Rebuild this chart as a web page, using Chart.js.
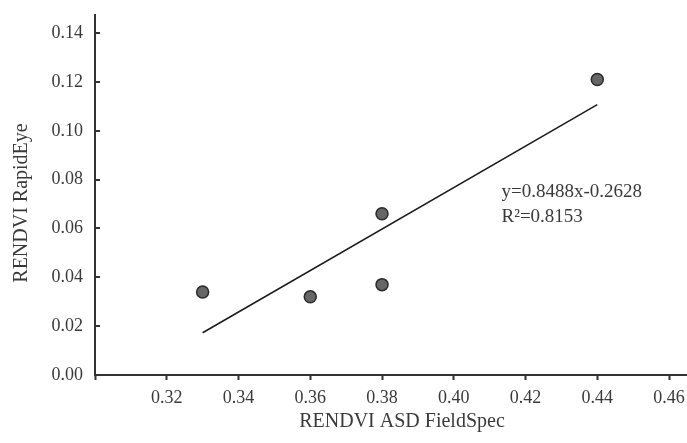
<!DOCTYPE html>
<html>
<head>
<meta charset="utf-8">
<script src="https://cdn.jsdelivr.net/npm/chart.js@4.4.1/dist/chart.umd.min.js"></script>
<style>
  html, body { margin: 0; padding: 0; background: #fff; overflow: hidden; }
  canvas { display: block; }
</style>
</head>
<body>
<canvas id="chart" width="687" height="443"></canvas>
<script>
// measured points
const asdValues = [0.33, 0.36, 0.38, 0.38, 0.44];
const rapidEyeValues = [0.034, 0.032, 0.037, 0.066, 0.121];

// fitted line, ends
const fitX = [0.33, 0.44];
const fitY = [0.0173, 0.1107];

const xTicks = [0.30, 0.32, 0.34, 0.36, 0.38, 0.40, 0.42, 0.44, 0.46];
const yTicks = [0.00, 0.02, 0.04, 0.06, 0.08, 0.10, 0.12, 0.14];

const xTitle = 'RENDVI ASD FieldSpec';
const yTitle = 'RENDVI RapidEye';
const equationLines = ['y=0.8488x-0.2628', 'R\u00B2=0.8153'];

const axisColor = '#333';
const textColor = '#3a3a3a';
const fontFamily = '"Liberation Serif", "DejaVu Serif", serif';

// small ticks on the y axis point into the plot
const innerTicks = {
    id: 'innerTicks',
    afterDraw(chart) {
        const ctx = chart.ctx;
        const y = chart.scales.y;
        const left = chart.chartArea.left;
        ctx.save();
        ctx.strokeStyle = axisColor;
        ctx.lineWidth = 2;
        yTicks.forEach(v => {
            const py = Math.round(y.getPixelForValue(v));
            ctx.beginPath();
            ctx.moveTo(left, py);
            ctx.lineTo(left + 5, py);
            ctx.stroke();
        });
        ctx.restore();
    }
};

// axis titles (a bit off-centre in the original) and the regression equation
const labels = {
    id: 'labels',
    afterDraw(chart) {
        const ctx = chart.ctx;
        const area = chart.chartArea;
        const x = chart.scales.x;
        const y = chart.scales.y;
        ctx.save();
        ctx.fillStyle = textColor;
        ctx.textBaseline = 'middle';
        ctx.textAlign = 'center';
        ctx.font = '20px ' + fontFamily;
        ctx.fillText(xTitle, area.left + 307, 422);

        ctx.save();
        ctx.translate(22, area.top + 188);
        ctx.rotate(-Math.PI / 2);
        ctx.fillText(yTitle, 0, 0);
        ctx.restore();

        ctx.textAlign = 'left';
        ctx.font = '19px ' + fontFamily;
        const px = x.getPixelForValue(0.4133);
        ctx.fillText(equationLines[0], px, y.getPixelForValue(0.0751));
        ctx.fillText(equationLines[1], px, y.getPixelForValue(0.0645));
        ctx.restore();
    }
};

const points = asdValues.map((x, i) => ({ x: x, y: rapidEyeValues[i] }));
const fitLine = fitX.map((x, i) => ({ x: x, y: fitY[i] }));

new Chart(document.getElementById('chart'), {
    type: 'scatter',
    data: {
        datasets: [{
            label: 'Samples',
            data: points,
            backgroundColor: '#666',
            borderColor: '#2a2a2a',
            borderWidth: 1.5,
            pointRadius: 6,
            order: 0
        }, {
            type: 'line',
            label: 'Fit',
            data: fitLine,
            borderColor: '#1a1a1a',
            borderWidth: 1.5,
            pointRadius: 0,
            fill: false,
            order: 1
        }]
    },
    options: {
        responsive: false,
        animation: false,
        layout: { autoPadding: false, padding: { top: 15, right: 0, bottom: 10, left: 0 } },
        plugins: {
            legend: { display: false },
            tooltip: { enabled: false }
        },
        scales: {
            x: {
                type: 'linear',
                min: 0.30,
                max: 0.465,
                afterBuildTicks: s => { s.ticks = xTicks.map(v => ({ value: v })); },
                afterFit: s => { s.height = 58; s.paddingLeft = 0; s.paddingRight = 0; },
                grid: { drawOnChartArea: false, drawTicks: true, tickLength: 5, tickWidth: 2, tickColor: axisColor },
                border: { color: axisColor, width: 2 },
                ticks: {
                    color: textColor,
                    font: { family: fontFamily, size: 18 },
                    padding: 7,
                    maxRotation: 0,
                    autoSkip: false,
                    callback: v => (Math.abs(v - 0.30) < 1e-9 ? '' : v.toFixed(2))
                }
            },
            y: {
                type: 'linear',
                min: 0,
                max: 0.1474,
                afterBuildTicks: s => { s.ticks = yTicks.map(v => ({ value: v })); },
                afterFit: s => { s.width = 95; s.paddingTop = 0; s.paddingBottom = 0; },
                grid: { drawOnChartArea: false, drawTicks: false },
                border: { color: axisColor, width: 2 },
                ticks: {
                    color: textColor,
                    font: { family: fontFamily, size: 18 },
                    padding: 12,
                    autoSkip: false,
                    callback: v => v.toFixed(2)
                }
            }
        }
    },
    plugins: [innerTicks, labels]
});
</script>
</body>
</html>
